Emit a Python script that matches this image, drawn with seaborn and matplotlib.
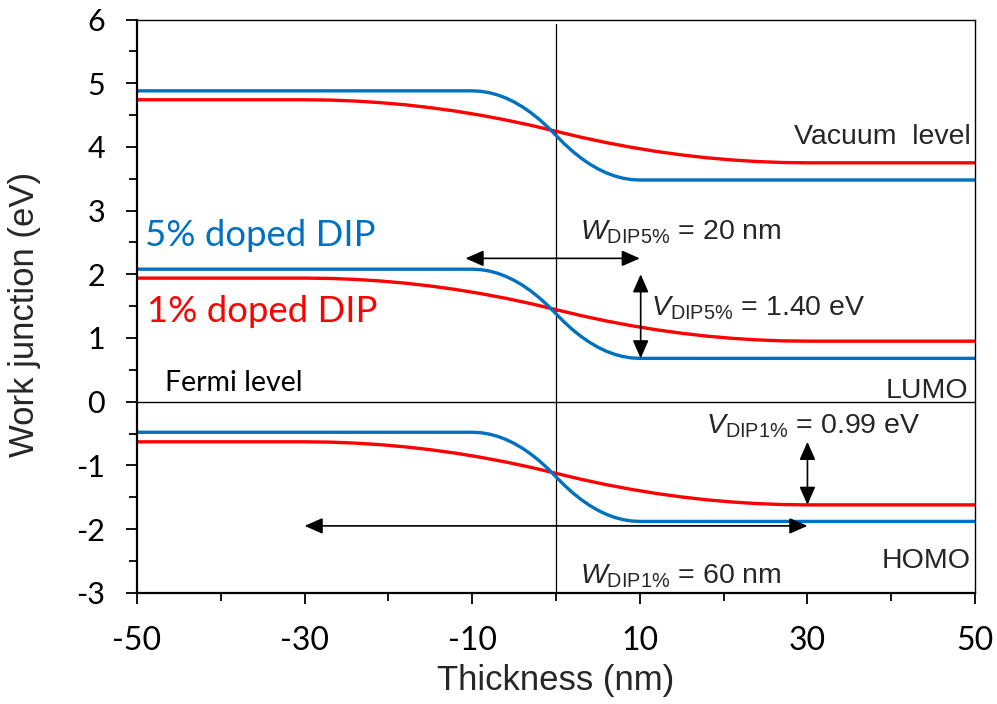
import numpy as np
import pandas as pd
import matplotlib
matplotlib.use("Agg")
import matplotlib.pyplot as plt
import seaborn as sns
from matplotlib.ticker import MultipleLocator

# Band-edge profiles across the junction (thickness in nm, energy in eV)
x_5 = [-50, -10, -9, -8, -7, -6, -5, -4, -3, -2, -1, 0,
       1, 2, 3, 4, 5, 6, 7, 8, 9, 10, 50]
vac_5 = [4.88, 4.88, 4.873, 4.852, 4.817, 4.768, 4.705, 4.628, 4.537, 4.432, 4.313, 4.180,
         4.047, 3.928, 3.823, 3.732, 3.655, 3.592, 3.543, 3.508, 3.487, 3.480, 3.48]
lumo_5 = [2.08, 2.08, 2.073, 2.052, 2.017, 1.968, 1.905, 1.828, 1.737, 1.632, 1.513, 1.380,
          1.247, 1.128, 1.023, 0.932, 0.855, 0.792, 0.743, 0.708, 0.687, 0.680, 0.68]
homo_5 = [-0.48, -0.48, -0.487, -0.508, -0.543, -0.592, -0.655, -0.732, -0.823, -0.928, -1.047, -1.180,
          -1.313, -1.432, -1.537, -1.628, -1.705, -1.768, -1.817, -1.852, -1.873, -1.880, -1.88]

x_1 = [-50, -30, -27, -24, -21, -18, -15, -12, -9, -6, -3, 0,
       3, 6, 9, 12, 15, 18, 21, 24, 27, 30, 50]
vac_1 = [4.74, 4.74, 4.735, 4.720, 4.695, 4.661, 4.616, 4.562, 4.497, 4.423, 4.339, 4.245,
         4.151, 4.067, 3.993, 3.928, 3.874, 3.829, 3.795, 3.770, 3.755, 3.750, 3.75]
lumo_1 = [1.94, 1.94, 1.935, 1.920, 1.895, 1.861, 1.816, 1.762, 1.697, 1.623, 1.539, 1.445,
          1.351, 1.267, 1.193, 1.128, 1.074, 1.029, 0.995, 0.970, 0.955, 0.950, 0.95]
homo_1 = [-0.63, -0.63, -0.635, -0.650, -0.675, -0.709, -0.754, -0.808, -0.873, -0.947, -1.031, -1.125,
          -1.219, -1.303, -1.377, -1.442, -1.496, -1.541, -1.575, -1.600, -1.615, -1.620, -1.62]

# Depletion widths and built-in potentials
w_5 = [-10.8, 10]
w_1 = [-30, 30]
v_5 = [0.68, 2.0]
v_1 = [-1.62, -0.63]

x_ticks = [-50, -30, -10, 10, 30, 50]
y_ticks = [-3, -2, -1, 0, 1, 2, 3, 4, 5, 6]

BLUE = "#0070C0"
RED = "#FF0000"

sns.set_style("ticks")
plt.rcParams["font.family"] = ["Lato", "DejaVu Sans"]
plt.rcParams["mathtext.fontset"] = "custom"
plt.rcParams["mathtext.rm"] = "Liberation Sans"
plt.rcParams["mathtext.it"] = "Liberation Sans:italic"

fig = plt.figure(figsize=(9.97, 7.04), dpi=100)
ax = fig.add_axes([0.1374, 0.158, 0.8406, 0.8143])

frames = []
for label, xs, levels in [
    ("5%", x_5, [vac_5, lumo_5, homo_5]),
    ("1%", x_1, [vac_1, lumo_1, homo_1]),
]:
    for name, ys in zip(["vac", "lumo", "homo"], levels):
        frames.append(pd.DataFrame({"x": xs, "E": ys, "doping": label, "level": name}))
df = pd.concat(frames, ignore_index=True)

colors = {"5%": BLUE, "1%": RED}
# red curves first, blue on top
for doping in ["1%", "5%"]:
    for name in ["vac", "lumo", "homo"]:
        sub = df[(df["doping"] == doping) & (df["level"] == name)]
        sns.lineplot(data=sub, x="x", y="E", color=colors[doping], lw=2.4,
                     estimator=None, sort=False, ax=ax, legend=False)

# Fermi level and interface
ax.plot([-50, 50], [0, 0], color="black", lw=1.0, zorder=1)
ax.plot([0, 0], [-3, 5.93], color="black", lw=0.9, zorder=1)

arrow = dict(arrowstyle="<|-|>,head_length=0.5,head_width=0.22", color="black",
             lw=1.2, mutation_scale=22, shrinkA=0, shrinkB=0)
ax.annotate("", xy=(w_5[0], 2.25), xytext=(w_5[1], 2.25), arrowprops=arrow)
ax.annotate("", xy=(10.1, v_5[0]), xytext=(10.1, v_5[1]), arrowprops=arrow)
ax.annotate("", xy=(30, v_1[0]), xytext=(30, v_1[1]), arrowprops=arrow)
ax.annotate("", xy=(w_1[0], -1.95), xytext=(w_1[1], -1.95), arrowprops=arrow)

arial = ["Liberation Sans", "DejaVu Sans"]
ax.text(-49.0, 2.44, "5% doped DIP", color=BLUE, fontsize=26.3, ha="left", va="baseline")
ax.text(-48.8, 1.254, "1% doped DIP", color=RED, fontsize=26.3, ha="left", va="baseline")
ax.text(-46.6, 0.171, "Fermi level", color="black", fontsize=20.5, ha="left", va="baseline")
ax.text(49.5, 4.044, "Vacuum  level", family=arial, fontsize=20.5, ha="right", va="baseline")
ax.text(49.2, 0.057, "LUMO", family=arial, fontsize=20.5, ha="right", va="baseline")
ax.text(49.5, -2.61, "HOMO", family=arial, fontsize=20.5, ha="right", va="baseline")
ax.text(2.86, 2.553, r"$\mathit{W}_{\mathrm{DIP5\%}}$ = 20 nm", family=arial, fontsize=20.5,
        ha="left", va="baseline")
ax.text(11.3, 1.36, r"$\mathit{V}_{\mathrm{DIP5\%}}$ = 1.40 eV", family=arial, fontsize=20.5,
        ha="left", va="baseline")
ax.text(17.9, -0.493, r"$\mathit{V}_{\mathrm{DIP1\%}}$ = 0.99 eV", family=arial, fontsize=20.5,
        ha="left", va="baseline")
ax.text(2.86, -2.847, r"$\mathit{W}_{\mathrm{DIP1\%}}$ = 60 nm", family=arial, fontsize=20.5,
        ha="left", va="baseline")

ax.set_xlim(-50, 50)
ax.set_ylim(-3, 6)
ax.set_xticks(x_ticks)
ax.set_xticklabels([str(t) for t in x_ticks])
ax.set_yticks(y_ticks)
ax.set_yticklabels([str(t) for t in y_ticks])
ax.xaxis.set_minor_locator(MultipleLocator(10))
ax.yaxis.set_minor_locator(MultipleLocator(0.5))
ax.tick_params(axis="both", which="major", direction="out", length=8, width=1.3,
               color="black", labelcolor="black")
ax.tick_params(axis="y", which="major", labelsize=22, pad=15)
ax.tick_params(axis="x", which="major", labelsize=23, pad=16)
ax.tick_params(axis="x", which="minor", direction="out", length=5.5, width=1.3, color="black")
ax.tick_params(axis="y", which="minor", direction="out", length=6, width=1.3, color="black")

for s in ["left", "bottom"]:
    ax.spines[s].set_linewidth(1.6)
    ax.spines[s].set_color("black")
for s in ["top", "right"]:
    ax.spines[s].set_visible(True)
    ax.spines[s].set_linewidth(1.0)
    ax.spines[s].set_color("black")

ax.set_xlabel("Thickness (nm)", family=arial, fontsize=25)
ax.set_ylabel("Work junction (eV)", family=arial, fontsize=25)
ax.xaxis.label.set_verticalalignment("baseline")
ax.xaxis.set_label_coords(0.5, -0.17)
ax.yaxis.label.set_verticalalignment("baseline")
ax.yaxis.set_label_coords(-0.123, 0.486)

fig.savefig("out.png", dpi=100)
